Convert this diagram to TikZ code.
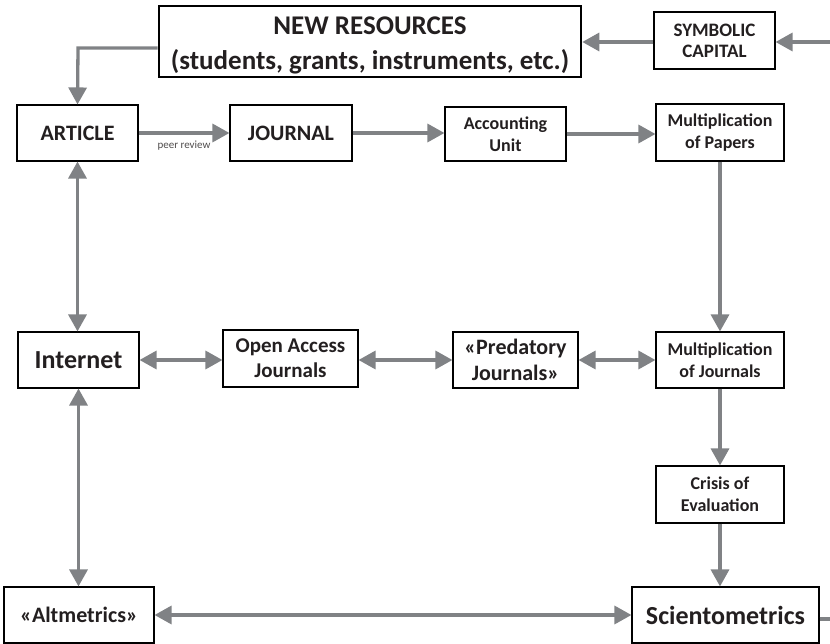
\documentclass[tikz,border=0pt]{standalone}
\usepackage{fontspec}
\setmainfont{Carlito}
\usetikzlibrary{arrows.meta}
\definecolor{arrgray}{RGB}{128,130,133}
\definecolor{txt}{RGB}{35,31,32}
\tikzset{
  box/.style={draw=black, line width=1.1pt, fill=white, align=center, inner sep=0pt, text=txt, font=\bfseries},
  arr/.style={draw=arrgray, line width=3.3pt, -{Triangle[length=17pt,width=18pt]}},
  darr/.style={draw=arrgray, line width=3.3pt, {Triangle[length=17pt,width=18pt]}-{Triangle[length=17pt,width=18pt]}},
  plain/.style={draw=arrgray, line width=3.3pt},
}
\newcommand{\fs}[2]{\fontsize{#1}{#2}\selectfont}
\begin{document}
\begin{tikzpicture}[x=1pt,y=-1pt]
\useasboundingbox (0,0) rectangle (830,644);
% nodes
\node[box, line width=2.6pt, minimum width=422pt, minimum height=71pt, font=\bfseries\fs{27}{35}] (newres) at (370,41.5) {\raisebox{-4pt}[\height][\depth]{\begin{tabular}{@{}c@{}}NEW RESOURCES\\(students, grants, instruments, etc.)\end{tabular}}};
\node[box, minimum width=121pt, minimum height=57pt, font=\bfseries\fs{19}{21}] (symcap) at (714.5,40.5) {SYMBOLIC\\CAPITAL};
\node[box, minimum width=121pt, minimum height=56pt, font=\bfseries\fs{22}{26}] (article) at (77.5,133) {ARTICLE};
\node[box, minimum width=122pt, minimum height=56pt, font=\bfseries\fs{22}{26}] (journal) at (291,133) {JOURNAL};
\node[box, minimum width=121pt, minimum height=54pt, font=\bfseries\fs{18}{22}] (acct) at (505.5,134) {Accounting\\Unit};
\node[box, minimum width=128pt, minimum height=57pt, font=\bfseries\fs{18}{21.5}] (multpap) at (720,132.5) {Multiplication\\of Papers};
\node[box, minimum width=121pt, minimum height=56pt, font=\bfseries\fs{26}{30}] (internet) at (78.5,360) {Internet};
\node[box, minimum width=135pt, minimum height=57pt, font=\bfseries\fs{21}{25}] (oaj) at (290.5,358.5) {Open Access\\Journals};
\node[box, minimum width=125pt, minimum height=56pt, font=\bfseries\fs{22}{26.5}] (pred) at (515.5,360) {«Predatory\\Journals»};
\node[box, minimum width=128pt, minimum height=56pt, font=\bfseries\fs{18}{21.5}] (multj) at (720,360) {Multiplication\\of Journals};
\node[box, minimum width=128pt, minimum height=57pt, font=\bfseries\fs{18}{22}] (crisis) at (720,494.5) {Crisis of\\Evaluation};
\node[box, minimum width=150pt, minimum height=56pt, font=\bfseries\fs{22}{26}] (altm) at (79,615) {«Altmetrics»};
\node[box, minimum width=187pt, minimum height=56pt, font=\bfseries\fs{26}{30}] (scient) at (725.5,615) {Scientometrics};
% free ends
\coordinate (rin) at (830,42);
\coordinate (rout) at (830,619);
\coordinate (elb) at (78,48);
% connectors
\draw[arr] (rin) -- (symcap.east |- rin);
\draw[arr] (symcap.west |- rin) -- (newres.east |- rin);
\draw[arr] (newres.west |- elb) -- (elb) -- (article.north);
\draw[arr] (article.east) -- node[below=3pt, font=\fs{11}{13}, text=txt!80] (pr) {peer review} (journal.west |- article.east);
\draw[arr] (journal.east) -- (acct.west |- journal.east);
\draw[arr] (acct.east) -- (multpap.west |- acct.east);
\draw[arr] (multpap.south) -- (multj.north);
\draw[darr] (article.south) -- (internet.north -| article.south);
\draw[darr] (internet.east) -- (oaj.west |- internet.east);
\draw[darr] (oaj.east |- pred.west) -- (pred.west);
\draw[darr] (pred.east) -- (multj.west);
\draw[darr] (internet.south) -- (altm.north -| internet.south);
\draw[arr] (multj.south) -- (crisis.north);
\draw[arr] (crisis.south) -- (scient.north -| crisis.south);
\draw[darr] (altm.east) -- (scient.west);
\draw[plain] (scient.east |- rout) -- (rout);
\end{tikzpicture}
\end{document}
